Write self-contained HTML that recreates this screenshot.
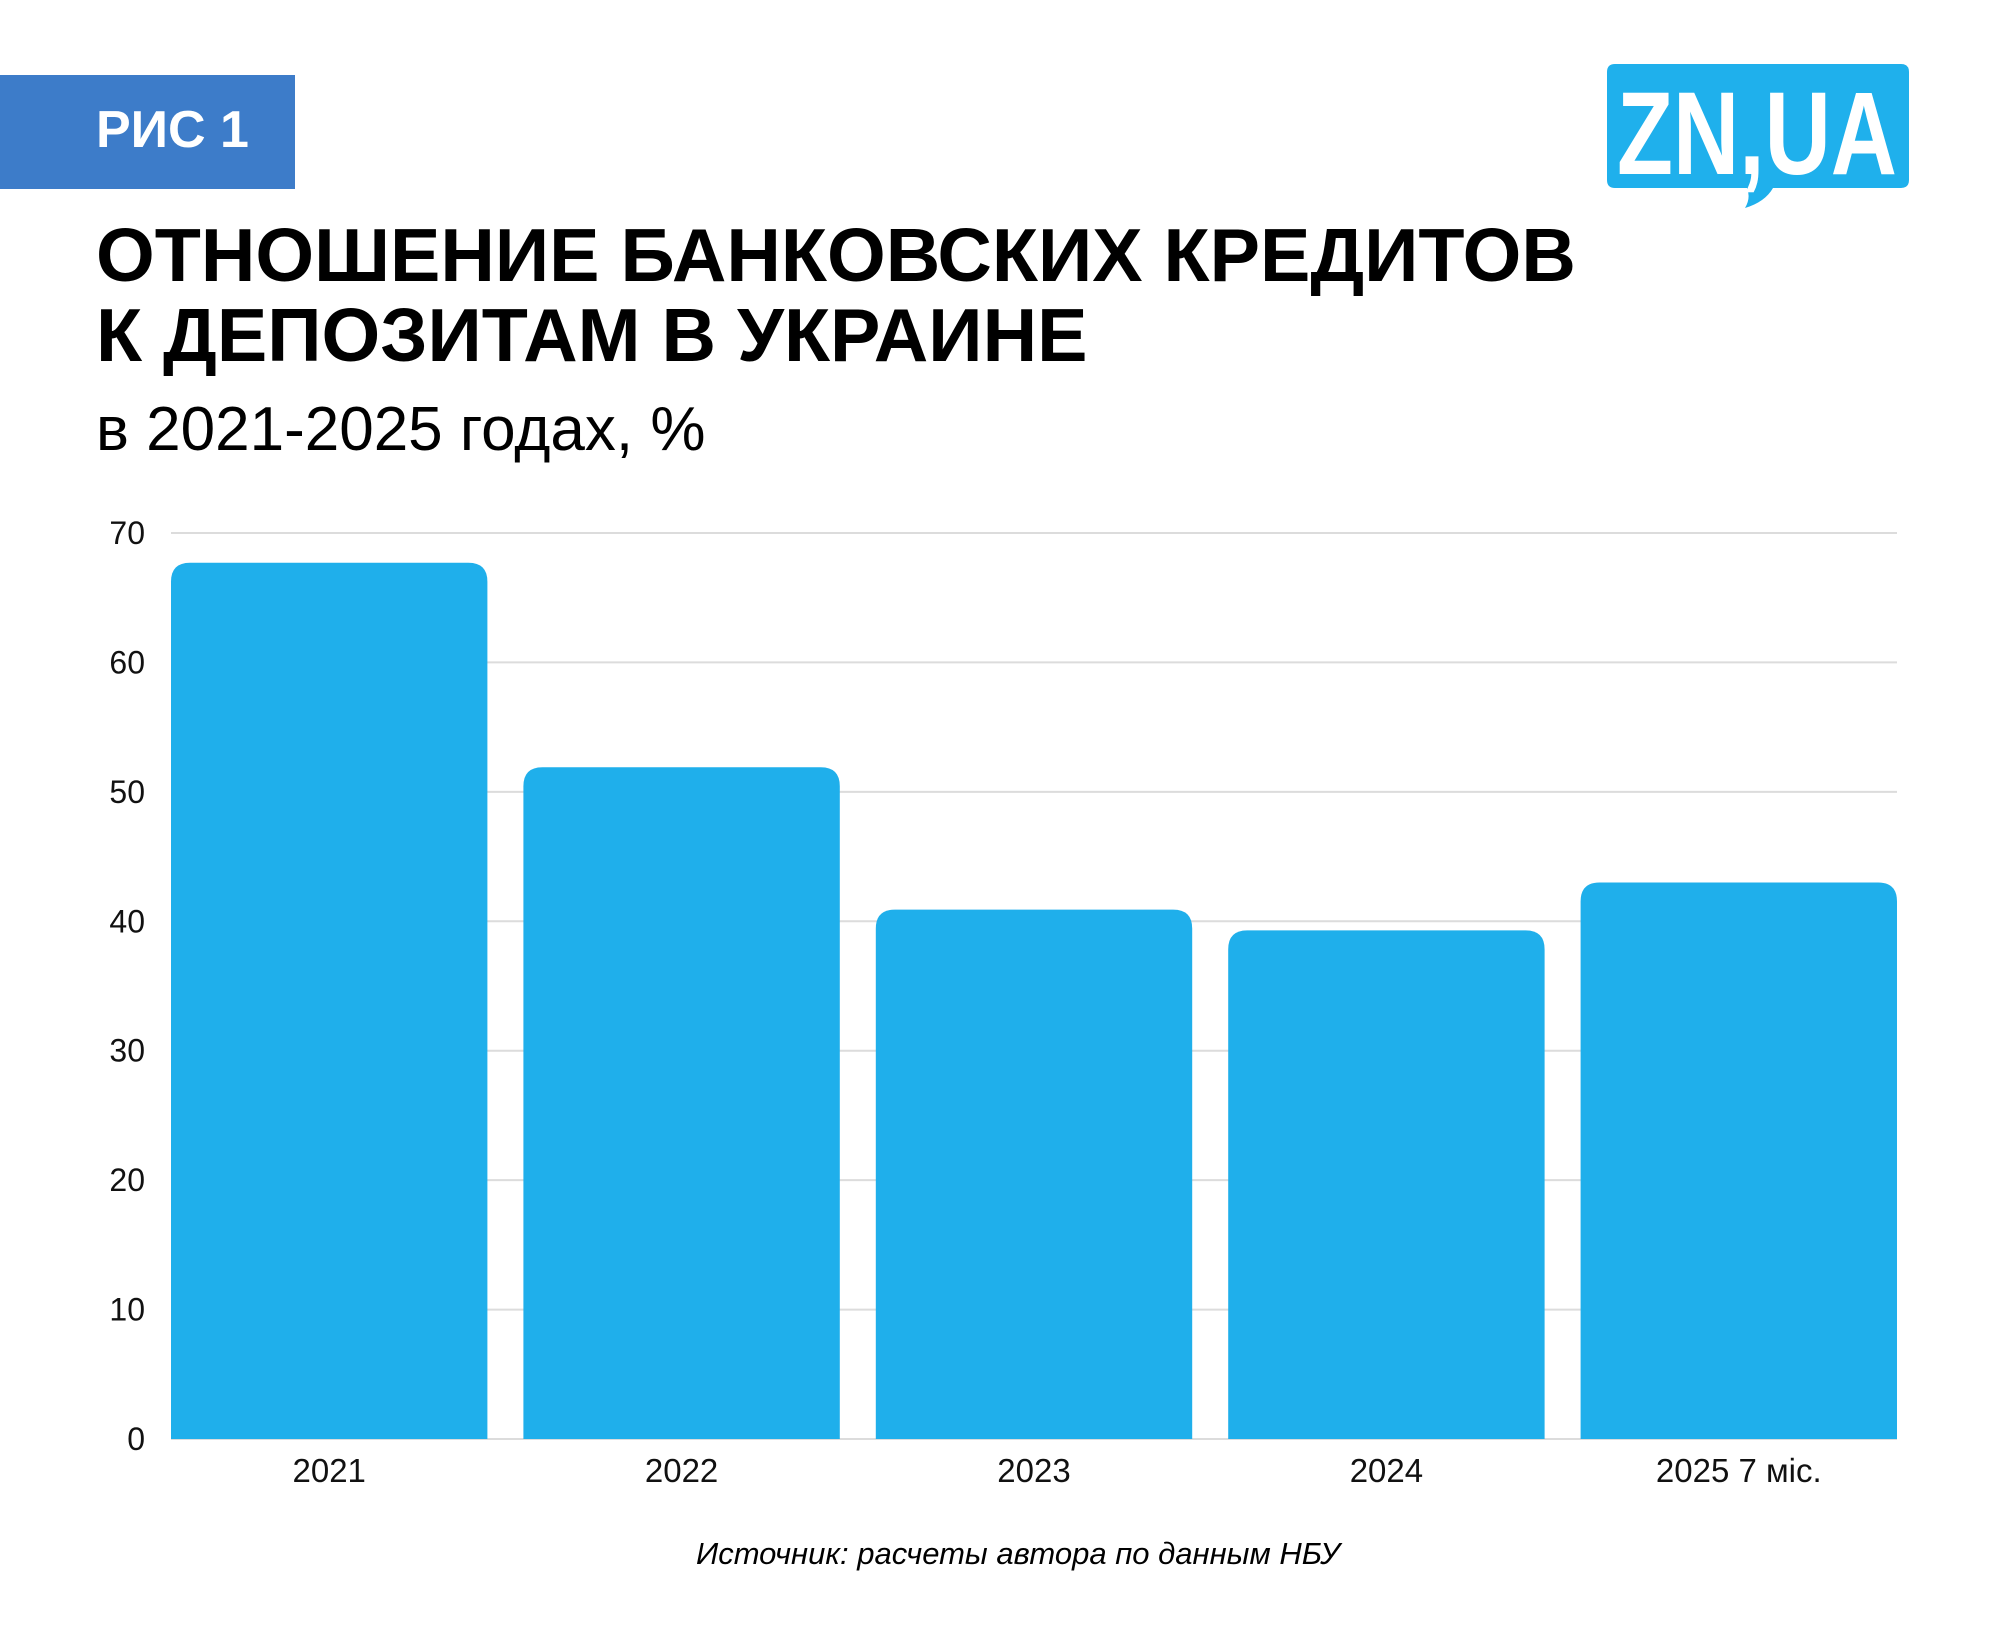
<!DOCTYPE html>
<html><head><meta charset="utf-8"><style>
body{margin:0;width:2000px;height:1633px;background:#fff;overflow:hidden;font-family:"Liberation Sans","DejaVu Sans",sans-serif;position:relative}
.abs{position:absolute}
</style></head><body>
<div class="abs" style="left:0;top:75px;width:295px;height:114px;background:#3d7cc9"></div>
<div class="abs" style="left:96px;top:98px;color:#fff;font-weight:bold;font-size:52px;line-height:64px">РИС 1</div>
<svg class="abs" style="left:1605px;top:62px" width="308" height="148">
<path d="M10 2 H296 Q304 2 304 10 V118 Q304 126 296 126 H168 Q160 140 140 146 Q146 136 142 126 H10 Q2 126 2 118 V10 Q2 2 10 2 Z" fill="#1fb0ec"/>
<text x="152" y="112" text-anchor="middle" fill="#fff" font-family="Liberation Sans" font-weight="bold" font-size="118" textLength="280" lengthAdjust="spacingAndGlyphs">ZN,UA</text>
</svg>
<div class="abs" style="left:96px;top:215px;font-weight:bold;font-size:75.5px;line-height:80px;color:#000;letter-spacing:0px">ОТНОШЕНИЕ БАНКОВСКИХ КРЕДИТОВ<br>К ДЕПОЗИТАМ В УКРАИНЕ</div>
<div class="abs" style="left:96px;top:395px;font-size:62px;line-height:70px;color:#000">в 2021-2025 годах, %</div>
<svg class="abs" id="chart" style="left:0;top:0" width="2000" height="1633"></svg>
<div class="abs" style="left:0;width:2036px;text-align:center;top:1536px;font-style:italic;font-size:31px;color:#000">Источник: расчеты автора по данным НБУ</div>
<script>
const categories=["2021","2022","2023","2024","2025 7 міс."];
const values=[67.7,51.9,40.9,39.3,43.0];
const yTicks=[0,10,20,30,40,50,60,70];
const NS="http://www.w3.org/2000/svg";
const svg=document.getElementById('chart');
const x0=171,x1=1897,yTop=533,yBot=1439,yMax=70,gap=36;
const y=v=>yBot-(v/yMax)*(yBot-yTop);
const n=categories.length,bw=(x1-x0-gap*(n-1))/n;
const bx=i=>x0+i*(bw+gap);
function mk(t,a){const e=document.createElementNS(NS,t);for(const k in a)e.setAttribute(k,a[k]);svg.appendChild(e);return e;}
yTicks.forEach(t=>{
 const l=mk('line',{x1:x0,x2:x1,y1:y(t),y2:y(t),stroke:'#dcdcdc','stroke-width':2});
 
 
 const tx=mk('text',{x:145,y:y(t)+11,'text-anchor':'end','font-size':32,fill:'#111','font-family':'Liberation Sans'});
 tx.textContent=t;
 
 
});
categories.forEach((c,i)=>{
 const X=bx(i),Y=y(values[i]),r=19;
 const p=mk('path',{d:`M${X} ${yBot} V${Y+r} Q${X} ${Y} ${X+r} ${Y} H${X+bw-r} Q${X+bw} ${Y} ${X+bw} ${Y+r} V${yBot} Z`,fill:'#1fafeb'});
 
 
 const tx=mk('text',{x:X+bw/2,y:1482,'text-anchor':'middle','font-size':33,fill:'#111','font-family':'Liberation Sans'});
 tx.textContent=c;
 
 
});
</script>
</body></html>
